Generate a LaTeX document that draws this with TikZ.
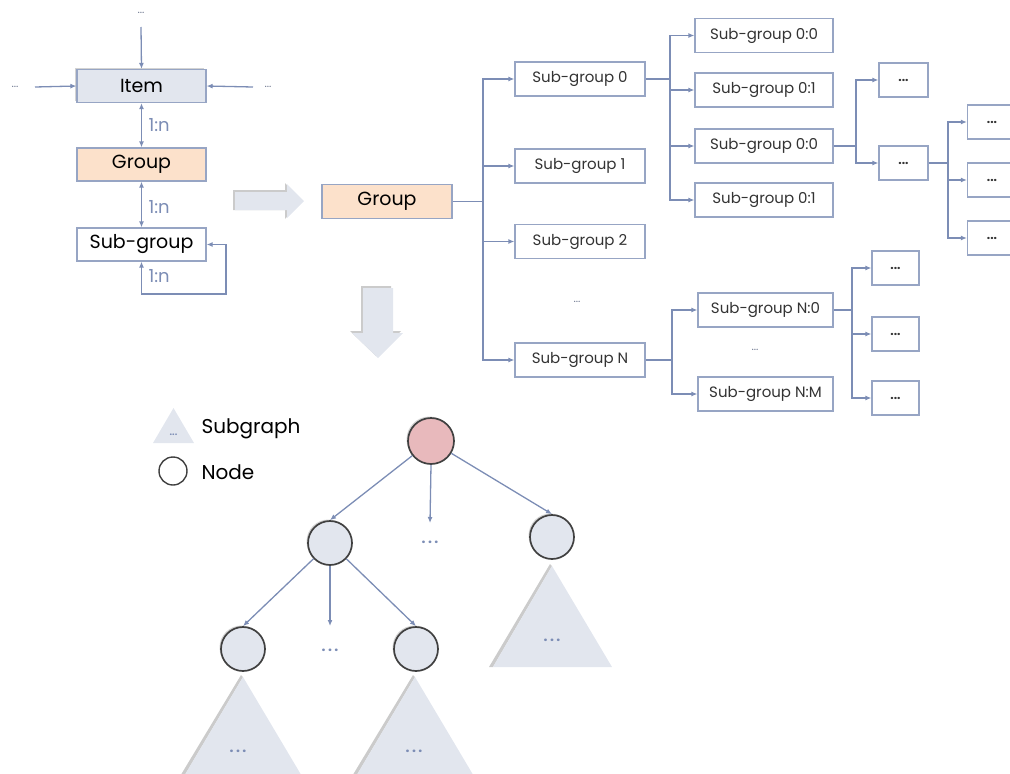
\documentclass[tikz,border=0pt]{standalone}
\usepackage{fontspec}
\setmainfont{Poppins}
\usetikzlibrary{arrows.meta,shadows}

\definecolor{lineblue}{HTML}{7C8DB5}
\definecolor{boxedge}{HTML}{97A5C4}
\definecolor{itemfill}{HTML}{E2E6EE}
\definecolor{peach}{HTML}{FCE1CB}
\definecolor{rootfill}{HTML}{E8B9BC}
\definecolor{nodefill}{HTML}{E2E6EE}
\definecolor{nodeedge}{HTML}{404040}
\definecolor{labelgray}{HTML}{333333}
\definecolor{dotgray}{HTML}{6F7890}
\definecolor{shadegray}{HTML}{A8A8A8}

\begin{document}
\begin{tikzpicture}[x=1pt,y=-1pt,
  conn/.style={draw=lineblue, line width=1.3pt, -{Latex[length=6pt,width=5pt]}},
  link/.style={draw=lineblue, line width=1.3pt},
  twoway/.style={draw=lineblue, line width=1.3pt, {Latex[length=6pt,width=5pt]}-{Latex[length=6pt,width=5pt]}},
  box/.style={draw=boxedge, line width=1.2pt, inner sep=0pt, minimum height=34pt, text=black},
  leftbox/.style={box, minimum width=129pt, minimum height=33pt, font=\fontsize{19}{22}\selectfont},
  subbox/.style={box, minimum width=130pt, font=\fontsize{15}{17}\selectfont, text=labelgray},
  leafbox/.style={box, minimum width=49pt, font=\fontsize{12}{14}\selectfont\bfseries, text=labelgray},
  dots/.style={font=\fontsize{11}{13}\selectfont, text=dotgray},
  ratio/.style={font=\fontsize{18}{20}\selectfont, text=lineblue, anchor=west},
  legendtext/.style={font=\fontsize{20}{22}\selectfont, anchor=west},
  treedots/.style={font=\fontsize{14}{16}\selectfont\bfseries, text=lineblue},
  vertex/.style={circle, draw=nodeedge, line width=1.7pt, fill=nodefill, minimum size=44pt, inner sep=0pt,
    drop shadow={shadow xshift=-1.5pt, shadow yshift=1.5pt, opacity=0.35}},
  subtree/.style={fill=nodefill},
  subtreeshade/.style={fill=shadegray, opacity=0.6},
  bigarrow/.style={fill=itemfill},
  bigarrowshade/.style={fill=shadegray, opacity=0.6}
]
\clip (0,0) rectangle (1010,774);
\useasboundingbox (0,0) rectangle (1010,774);

% ---------- data model: Item / Group / Sub-group ----------
\node[leftbox, fill=itemfill, drop shadow={shadow xshift=-2pt, shadow yshift=2pt, opacity=0.35}] (item) at (141.5,86) {Item};
\node[leftbox, fill=peach] (grp) at (141.5,164.5) {Group};
\node[leftbox, fill=white] (sub) at (141.5,244.5) {Sub-group};

\node[dots] (dtop) at (141,13) {...};
\node[dots] (dleft) at (15,87) {...};
\node[dots] (dright) at (268,87) {...};
\coordinate (ttop) at (141,27);
\coordinate (tleft) at (35,87);
\coordinate (tright) at (253,87);
\draw[conn] (ttop) -- (item.north);
\draw[conn] (tleft) -- (item.west);
\draw[conn] (tright) -- (item.east);

\draw[twoway] (item.south) -- (grp.north);
\node[ratio] (r1) at (145,125) {1:n};
\draw[twoway] (grp.south) -- (sub.north);
\node[ratio] (r2) at (145,207) {1:n};
\coordinate (loop) at (226,294);
\draw[twoway] (sub.south) |- (loop) |- (sub.east);
\node[ratio] (r3) at (145,276) {1:n};

% ---------- block arrows ----------
\fill[bigarrowshade] (233,190) -- (285,190) -- (285,183) -- (302,201) -- (285,219) -- (285,210) -- (233,210) -- cycle;
\fill[bigarrow] (235,192) -- (287,192) -- (287,184) -- (304,201) -- (287,218) -- (287,210) -- (235,210) -- cycle;
\fill[bigarrowshade] (361,286) -- (391,286) -- (391,331) -- (401,331) -- (376,356) -- (350,331) -- (361,331) -- cycle;
\fill[bigarrow] (363,288) -- (393,288) -- (393,333) -- (403,333) -- (378,358) -- (352,333) -- (363,333) -- cycle;

% ---------- group hierarchy ----------
\node[box, minimum width=130pt, fill=peach, font=\fontsize{19}{22}\selectfont] (rg) at (387,201.5) {Group};
\node[subbox] (s0) at (580,79) {Sub-group 0};
\node[subbox] (s1) at (580,166) {Sub-group 1};
\node[subbox] (s2) at (580,241.5) {Sub-group 2};
\node[subbox] (sN) at (580,360) {Sub-group N};
\node[dots] (sdots) at (577,302) {...};
\coordinate (j0) at (483,201.5);
\draw[link] (rg.east) -- (j0);
\draw[conn] (j0) |- (s0.west);
\draw[conn] (j0) |- (s1.west);
\draw[conn] (j0) |- (s2.west);
\draw[conn] (j0) |- (sN.west);

\node[subbox, minimum width=138pt] (s00) at (764,35.5) {Sub-group 0:0};
\node[subbox, minimum width=138pt] (s01) at (764,90) {Sub-group 0:1};
\node[subbox, minimum width=138pt] (s02) at (764,146) {Sub-group 0:0};
\node[subbox, minimum width=138pt] (s03) at (764,200) {Sub-group 0:1};
\coordinate (j1) at (670,79);
\draw[link] (s0.east) -- (j1);
\draw[conn] (j1) |- (s00.west);
\draw[conn] (j1) |- (s01.west);
\draw[conn] (j1) |- (s02.west);
\draw[conn] (j1) |- (s03.west);

\node[leafbox] (d1) at (903.5,80) {...};
\node[leafbox] (d2) at (903.5,163) {...};
\coordinate (j2) at (856,146);
\draw[link] (s02.east) -- (j2);
\draw[conn] (j2) |- (d1.west);
\draw[conn] (j2) |- (d2.west);

\node[leafbox] (e1) at (992,122) {...};
\node[leafbox] (e2) at (992,180) {...};
\node[leafbox] (e3) at (992,238) {...};
\coordinate (j3) at (948,163);
\draw[link] (d2.east) -- (j3);
\draw[conn] (j3) |- (e1.west);
\draw[conn] (j3) |- (e2.west);
\draw[conn] (j3) |- (e3.west);

\node[subbox, minimum width=135pt] (n0) at (765.5,310) {Sub-group N:0};
\node[subbox, minimum width=135pt] (nM) at (765.5,394) {Sub-group N:M};
\node[dots] (ndots) at (755,350) {...};
\coordinate (j4) at (672,360);
\draw[link] (sN.east) -- (j4);
\draw[conn] (j4) |- (n0.west);
\draw[conn] (j4) |- (nM.west);

\node[leafbox, minimum width=47pt] (f1) at (895.5,268) {...};
\node[leafbox, minimum width=47pt] (f2) at (895.5,334) {...};
\node[leafbox, minimum width=47pt] (f3) at (895.5,398) {...};
\coordinate (j5) at (852,310);
\draw[link] (n0.east) -- (j5);
\draw[conn] (j5) |- (f1.west);
\draw[conn] (j5) |- (f2.west);
\draw[conn] (j5) |- (f3.west);

% ---------- legend ----------
\fill[subtree] (153,443) -- (173.5,408) -- (194,443) -- cycle;
\node[treedots, font=\fontsize{9}{11}\selectfont\bfseries] (ldots) at (173.5,435) {...};
\node[legendtext] (lsub) at (198,429) {Subgraph};
\node[circle, draw=nodeedge, line width=1.4pt, minimum size=28pt, inner sep=0pt] (lnode) at (173,471) {};
\node[legendtext] (lnodetext) at (198,472) {Node};

% ---------- graph ----------
% subgraph triangles
\fill[subtreeshade] (489,667) -- (550,564) -- (552,566) -- (493,667) -- cycle;
\fill[subtree] (493,667) -- (552,566) -- (612,667) -- cycle;
\fill[subtreeshade] (179,778) -- (241,675) -- (243,677) -- (183,778) -- cycle;
\fill[subtree] (183,778) -- (243,677) -- (303,778) -- cycle;
\fill[subtreeshade] (351,778) -- (413,675) -- (415,677) -- (355,778) -- cycle;
\fill[subtree] (355,778) -- (415,677) -- (475,778) -- cycle;
\node[treedots] (t1) at (552,640) {.\,.\,.};
\node[treedots] (t2) at (238,751) {.\,.\,.};
\node[treedots] (t3) at (414,751) {.\,.\,.};

\node[vertex, fill=rootfill, minimum size=46pt] (root) at (431,441) {};
\node[vertex] (c1) at (330,543) {};
\node[vertex] (c2) at (552,537) {};
\node[vertex] (c11) at (243,649) {};
\node[vertex] (c12) at (416,649) {};

\coordinate (m1) at (430,523);
\coordinate (m2) at (330,626);
\node[treedots] (md1) at (430,542) {.\,.\,.};
\node[treedots] (md2) at (330,650) {.\,.\,.};

\draw[conn] (root) -- (c1.north);
\draw[conn] (root.south) -- (m1);
\draw[conn] (root) -- (c2.north);
\draw[conn] (c1) -- (c11.north);
\draw[conn] (c1.south) -- (m2);
\draw[conn] (c1) -- (c12.north);
\end{tikzpicture}
\end{document}
